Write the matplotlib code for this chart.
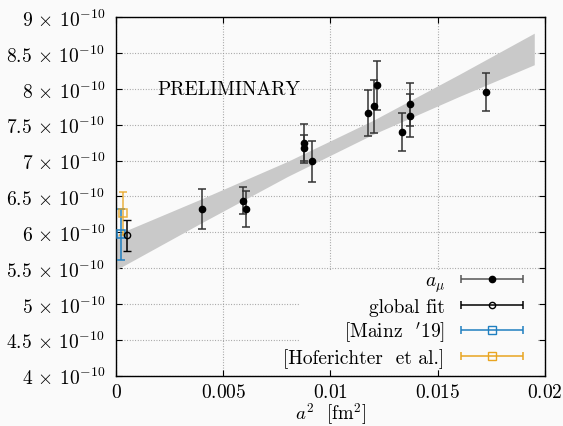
# a_mu em funcao de a^2 com extrapolacao ao continuo (banda do fit global)
# e comparacao com [Mainz '19] e [Hoferichter et al.].

import numpy as np
import matplotlib
matplotlib.use("Agg")
import matplotlib.pyplot as plt
from matplotlib.container import ErrorbarContainer
from matplotlib.legend_handler import HandlerErrorbar
from matplotlib.patches import Rectangle
from matplotlib.ticker import FuncFormatter

plt.rcParams["font.family"] = "cmr10"
plt.rcParams["mathtext.fontset"] = "cm"
plt.rcParams["axes.formatter.use_mathtext"] = True
plt.rcParams["font.size"] = 14

SCALE = 1e-10
BG = "#fafafa"

# pontos de rede (a^2 em fm^2, a_mu em unidades de 1e-10)
a2 = [0.00402, 0.00594, 0.00605, 0.00878, 0.00878, 0.00916, 0.01173,
      0.01203, 0.01215, 0.01335, 0.01371, 0.01371, 0.01725]
amu = [6.33, 6.44, 6.33, 7.24, 7.18, 6.99, 7.67,
       7.76, 8.05, 7.40, 7.79, 7.625, 7.96]
amu_err = [0.28, 0.19, 0.25, 0.27, 0.18, 0.29, 0.32,
           0.37, 0.345, 0.27, 0.30, 0.30, 0.26]

# resultado do fit global no continuo
fit_a2 = [0.00053]
fit_val = [5.96]
fit_err = [0.215]

# referencias
mainz_a2 = [0.00023]
mainz_val = [5.97]
mainz_err = [0.36]

hofer_a2 = [0.00032]
hofer_val = [6.265]
hofer_err = [0.30]

# banda do fit
band_a2 = [0.0, 0.004, 0.008, 0.012, 0.016, 0.0195]
band_lo = [5.475, 6.135, 6.78, 7.37, 7.896, 8.339]
band_hi = [5.965, 6.469, 6.99, 7.565, 8.204, 8.779]

labels = [r"$a_\mu$", "global fit", r"[Mainz  $'$19]", "[Hoferichter  et al.]"]

blue = "#1f7fc0"
orange = "#e9a521"

fig = plt.figure(figsize=(5.63, 4.27), dpi=100, facecolor=BG)
ax = fig.add_axes([0.206, 0.118, 0.762, 0.839], facecolor=BG)

ax.fill_between(band_a2, np.array(band_lo) * SCALE, np.array(band_hi) * SCALE,
                color="#c9c9c9", lw=0, zorder=1)

eb_kw = dict(capsize=2.8, elinewidth=1.1, capthick=1.1, zorder=3)
ax.errorbar(a2, np.array(amu) * SCALE, yerr=np.array(amu_err) * SCALE,
            fmt="o", ms=4.5, color="black", ecolor="#333333", **eb_kw)
ax.errorbar(hofer_a2, np.array(hofer_val) * SCALE, yerr=np.array(hofer_err) * SCALE,
            fmt="s", ms=5.5, mfc="none", mew=1.1, color=orange, ecolor=orange,
            alpha=0.85, **eb_kw)
ax.errorbar(mainz_a2, np.array(mainz_val) * SCALE, yerr=np.array(mainz_err) * SCALE,
            fmt="s", ms=5.5, mfc="none", mew=1.1, color=blue, **eb_kw)
ax.errorbar(fit_a2, np.array(fit_val) * SCALE, yerr=np.array(fit_err) * SCALE,
            fmt="o", ms=4.5, mfc="none", mew=1.0, color="black", **eb_kw)

# fundo da legenda (esconde a grade, deixa os ticks)
ax.add_patch(Rectangle((0.429, 0.019), 0.555, 0.275, transform=ax.transAxes,
                       facecolor=BG, edgecolor="none", zorder=0.8))

# alcas da legenda com barras horizontais
hkw = dict(capsize=2.8, elinewidth=1.1, capthick=1.1)
handles = [
    ax.errorbar([np.nan], [np.nan], xerr=[1], fmt="o", ms=4.5, color="black",
                ecolor="#555555", **hkw),
    ax.errorbar([np.nan], [np.nan], xerr=[1], fmt="o", ms=4.5, mfc="none",
                color="black", **hkw),
    ax.errorbar([np.nan], [np.nan], xerr=[1], fmt="s", ms=5.5, mfc="none",
                color=blue, **hkw),
    ax.errorbar([np.nan], [np.nan], xerr=[1], fmt="s", ms=5.5, mfc="none",
                color=orange, **hkw),
]
leg = ax.legend(handles, labels, loc="lower right", bbox_to_anchor=(0.97, 0.0),
                markerfirst=False,
                handler_map={ErrorbarContainer: HandlerErrorbar(xerr_size=1.6)},
                handlelength=3.3, handletextpad=0.8, labelspacing=0.2,
                borderpad=0.4, borderaxespad=0.0, frameon=False, fontsize=14)
leg.set_zorder(5)

ax.text(0.00527, 8.0 * SCALE, "PRELIMINARY", ha="center", va="center", fontsize=14)

ax.set_xlim(0, 0.02)
ax.set_ylim(4 * SCALE, 9 * SCALE)
ax.set_xticks([0, 0.005, 0.01, 0.015, 0.02])
ax.set_yticks(np.arange(4, 9.01, 0.5) * SCALE)
ax.xaxis.set_major_formatter(FuncFormatter(lambda v, _: "$0$" if v == 0 else f"${v:g}$"))
ax.yaxis.set_major_formatter(
    FuncFormatter(lambda v, _: rf"${v / SCALE:g}\,\times\,10^{{-10}}$"))
ax.tick_params(direction="in", top=True, right=True, length=4.5, width=0.8)
ax.tick_params(axis="x", pad=5)
ax.tick_params(axis="y", pad=8)

ax.grid(True, linestyle=(0, (0.8, 1.6)), color="#9a9a9a", lw=0.8, zorder=0)
ax.set_axisbelow(True)
for s in ax.spines.values():
    s.set_linewidth(1.0)

ax.set_xlabel(r"$a^2$  [fm$^2$]", labelpad=-0.5, fontsize=13.5)

fig.savefig("out.png", dpi=100, facecolor=BG)
